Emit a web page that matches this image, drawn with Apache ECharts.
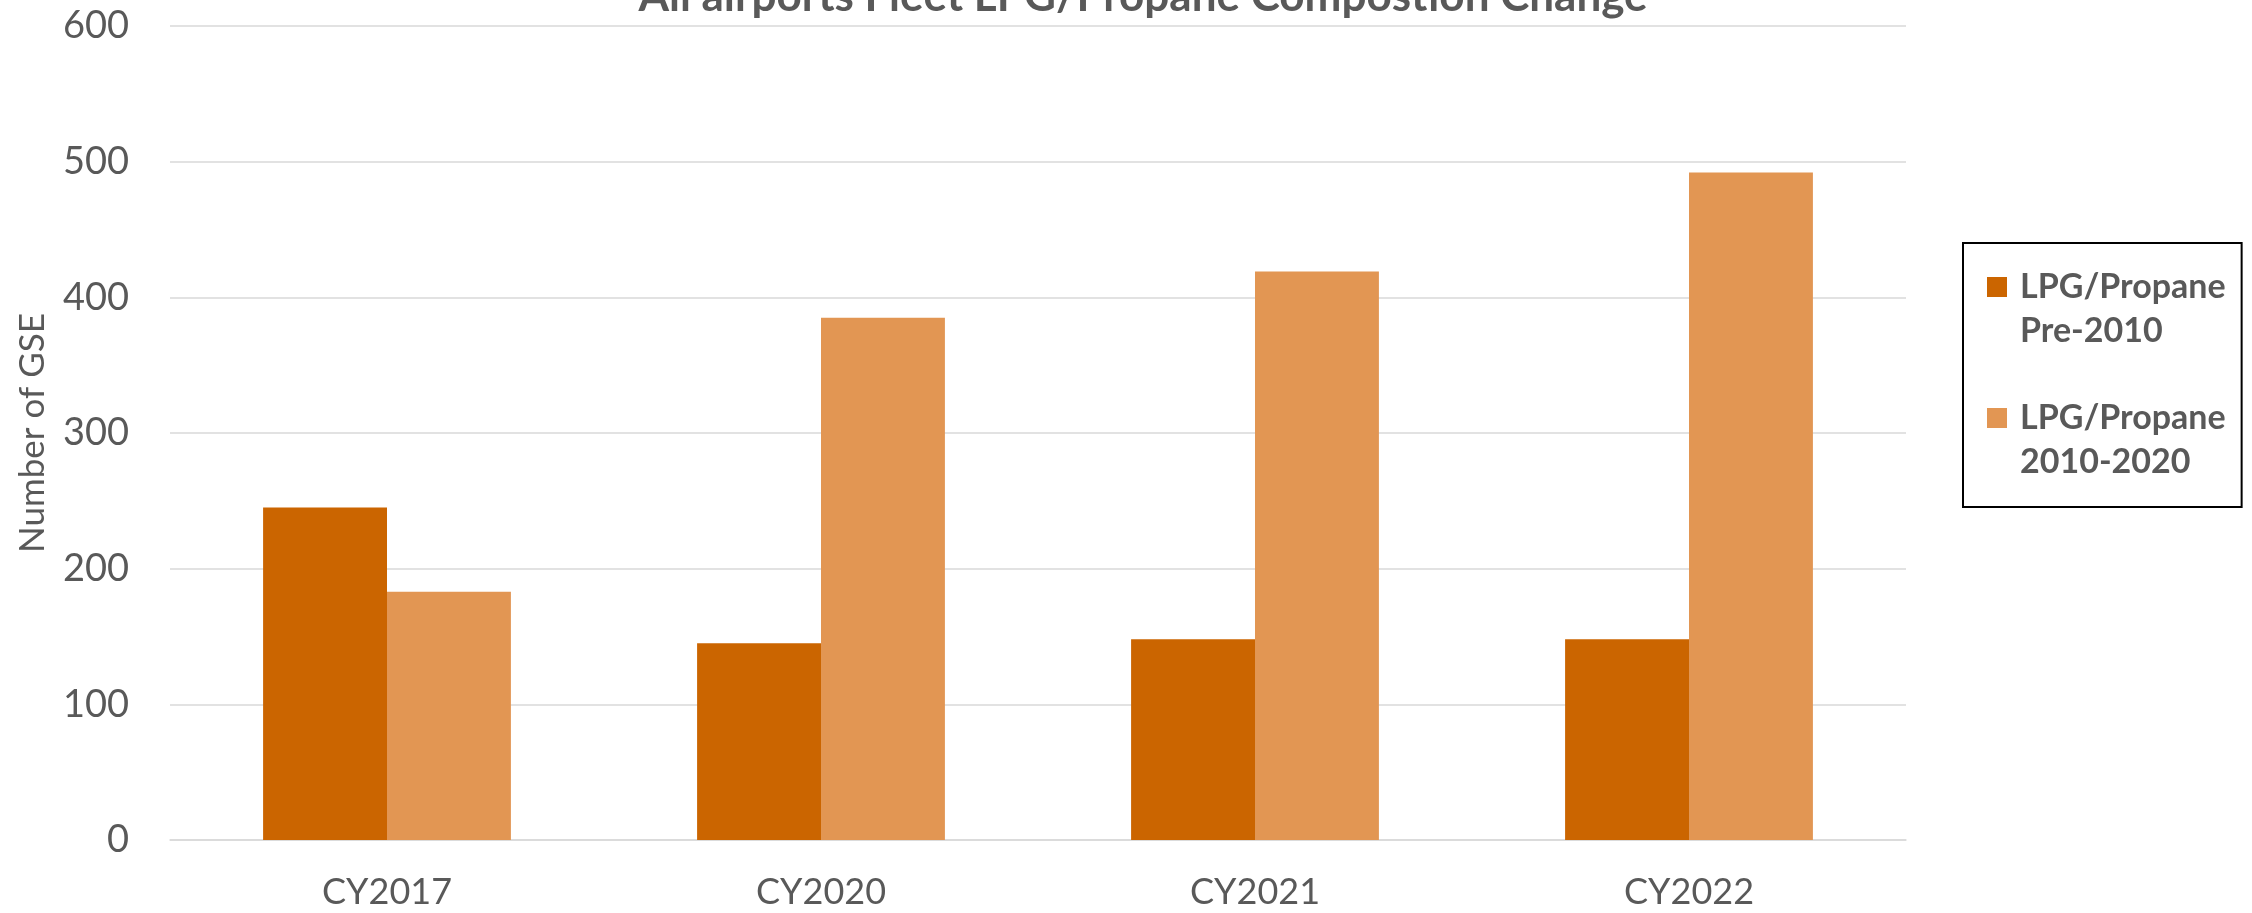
<!DOCTYPE html>
<html>
<head>
<meta charset="utf-8">
<script src="https://cdn.jsdelivr.net/npm/echarts@6/dist/echarts.min.js"></script>
<style>
  html, body { margin: 0; padding: 0; background: #fff; }
  #main { width: 2252px; height: 913px; }
</style>
</head>
<body>
<div id="main"></div>
<script>
// 数据
const categories = ["CY2017", "CY2020", "CY2021", "CY2022"];
const seriesNames = ["LPG/Propane Pre-2010", "LPG/Propane 2010-2020"];
const pre2010 = [245, 145, 148, 148];
const from2010to2020 = [183, 385, 419, 492];
const yTicks = [0, 100, 200, 300, 400, 500, 600];

const grey = "#595959";
const font = "Lato";

let myChart = echarts.init(document.getElementById("main"));
let option = {
  backgroundColor: "#fff",
  animation: false,
  title: {
    text: "All airports Fleet LPG/Propane Compostion Change",
    left: 1138,
    textAlign: "center",
    top: -30,
    textStyle: { color: grey, fontFamily: font, fontWeight: "bold", fontSize: 44 },
  },
  grid: { // 绘图区
    left: 170,
    right: 346,
    top: 26,
    bottom: 73,
    outerBoundsMode: "none",
  },
  legend: {
    orient: "vertical",
    left: 1963,
    top: 243,
    padding: [22, 16, 23, 24],
    borderColor: "#000",
    borderWidth: 2,
    itemWidth: 28,
    itemHeight: 88,
    itemGap: 43,
    // 方块在图标框上部，对齐第一行文字
    icon: "path://M0,0M28,88M0,12h20v20h-20z",
    formatter: (name) => name.replace(" ", "\n"),
    textStyle: { color: grey, fontFamily: font, fontWeight: "bold", fontSize: 34, lineHeight: 44 },
    data: seriesNames,
  },
  xAxis: {
    type: "category",
    data: categories,
    axisLine: { show: true, lineStyle: { color: "#d9d9d9", width: 1.5 } },
    axisTick: { show: false },
    axisLabel: { color: grey, fontFamily: font, fontSize: 36, margin: 34 },
  },
  yAxis: {
    type: "value",
    min: yTicks[0],
    max: yTicks[yTicks.length - 1],
    interval: 100,
    name: "Number of GSE",
    nameLocation: "middle",
    nameRotate: 90,
    nameGap: 120,
    nameTextStyle: { color: grey, fontFamily: font, fontSize: 35 },
    axisLine: { show: false },
    axisTick: { show: false },
    axisLabel: { color: grey, fontFamily: font, fontSize: 38, margin: 41 },
    splitLine: { show: true, lineStyle: { color: "#d9d9d9", width: 1.5 } },
  },
  series: [
    {
      type: "bar",
      name: seriesNames[0],
      data: pre2010,
      barGap: "0%",
      barCategoryGap: "42.9%",
      itemStyle: { color: "#CB6500" },
    },
    {
      type: "bar",
      name: seriesNames[1],
      data: from2010to2020,
      barGap: "0%",
      barCategoryGap: "42.9%",
      itemStyle: { color: "#E29653" },
    },
  ],
};
myChart.setOption(option);
</script>
</body>
</html>
